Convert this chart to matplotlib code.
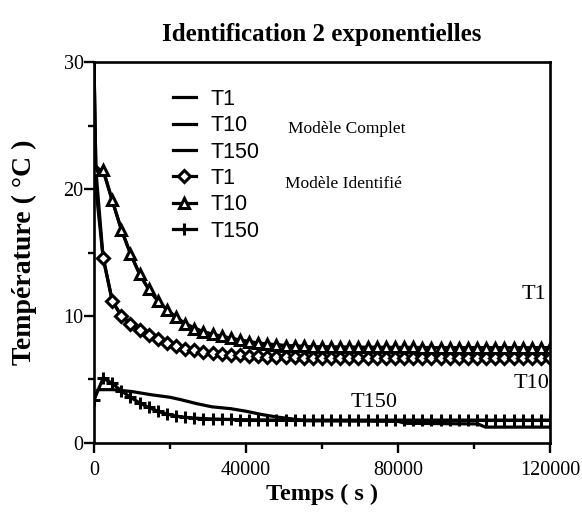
import numpy as np
import matplotlib
matplotlib.use('Agg')
import matplotlib.pyplot as plt
from matplotlib.lines import Line2D

# identified model, sampled every 2400 s
t_id = np.arange(0, 120001, 2400)

t1_id = [21.5, 14.6, 11.2, 10.0, 9.4, 8.9, 8.5, 8.15, 7.85, 7.6,
         7.42, 7.3, 7.18, 7.08, 7.0, 6.94, 6.89, 6.85, 6.82, 6.79,
         6.77, 6.75, 6.74, 6.73, 6.72, 6.71, 6.7, 6.7, 6.7, 6.7,
         6.7, 6.7, 6.7, 6.7, 6.7, 6.7, 6.7, 6.7, 6.7, 6.7,
         6.7, 6.7, 6.7, 6.7, 6.7, 6.7, 6.7, 6.7, 6.7, 6.7, 6.7]

t10_id = [21.5, 21.5, 19.1, 16.8, 14.9, 13.3, 12.1, 11.2, 10.5, 9.9,
          9.4, 9.0, 8.75, 8.55, 8.4, 8.25, 8.1, 7.97, 7.87, 7.78,
          7.72, 7.67, 7.63, 7.6, 7.57, 7.55, 7.55, 7.54, 7.54, 7.53,
          7.53, 7.53, 7.52, 7.52, 7.52, 7.52, 7.51, 7.51, 7.51, 7.51,
          7.5, 7.5, 7.5, 7.5, 7.5, 7.5, 7.5, 7.5, 7.5, 7.5, 7.5]

t150_id = [3.4, 5.1, 4.7, 4.1, 3.6, 3.15, 2.8, 2.5, 2.28, 2.12,
           2.02, 1.96, 1.92, 1.89, 1.87, 1.85, 1.84, 1.83, 1.82, 1.81,
           1.8, 1.8, 1.8, 1.8, 1.8, 1.8, 1.8, 1.8, 1.8, 1.8,
           1.8, 1.8, 1.8, 1.8, 1.8, 1.8, 1.8, 1.8, 1.8, 1.8,
           1.8, 1.8, 1.8, 1.8, 1.8, 1.8, 1.8, 1.8, 1.8, 1.8, 1.8]

# complete model
t_c = [0, 500, 2400, 4800, 7200, 9600, 12000, 14400, 16800, 19200, 21600,
       24000, 28800, 33600, 38400, 43200, 50400, 57600, 72000, 96000, 120000]
t1_c = [30.0, 21.5, 14.6, 11.2, 10.0, 9.4, 8.9, 8.5, 8.15, 7.85, 7.6,
        7.42, 7.18, 7.0, 6.89, 6.82, 6.75, 6.7, 6.7, 6.7, 6.7]
t10_c = [30.0, 21.5, 21.5, 19.1, 16.8, 14.9, 13.3, 12.1, 11.2, 10.5, 9.9,
         9.4, 8.75, 8.4, 8.1, 7.87, 7.67, 7.57, 7.53, 7.51, 7.5]

t150_ct = [0, 1000, 5000, 10000, 15000, 20000, 23000, 27000, 31000, 36000,
           40000, 44000, 48000, 52000, 56000, 80000, 82000, 101000, 103000, 120000]
t150_c = [3.4, 4.2, 4.2, 4.05, 3.8, 3.6, 3.4, 3.1, 2.85, 2.7,
          2.5, 2.25, 2.05, 1.9, 1.75, 1.7, 1.55, 1.5, 1.25, 1.25]

serif = 'Liberation Serif'
sans = 'Liberation Sans'

fig = plt.figure(figsize=(5.82, 5.16), dpi=100)
ax = fig.add_axes([0.1615, 0.1415, 0.7835, 0.7383])

lw = 2.3
dia = dict(marker='D', ms=6, mfc='white', mec='black', mew=2.2)
tri = dict(marker='^', ms=7, mfc='white', mec='black', mew=2.2)
crs = dict(marker='+', ms=9, mew=2.2)

ax.plot(t_c, t1_c, color='black', lw=lw)
ax.plot(t_c, t10_c, color='black', lw=lw)
ax.plot(t150_ct, t150_c, color='black', lw=lw)
ax.plot(t_id, t1_id, color='black', lw=lw, **dia)
ax.plot(t_id, t10_id, color='black', lw=lw, **tri)
ax.plot(t_id, t150_id, color='black', lw=lw, **crs)

ax.set_xlim(0, 120000)
ax.set_ylim(0, 30)
ax.set_xticks([0, 40000, 80000, 120000])
ax.set_xticks([20000, 60000, 100000], minor=True)
ax.set_yticks([0, 10, 20, 30])
ax.set_yticks([5, 15, 25], minor=True)
ax.tick_params(which='major', direction='out', length=7, width=1.7,
               top=False, right=False, labelsize=14.5)
ax.tick_params(axis='y', which='major', pad=0.5)
ax.tick_params(axis='x', which='major', pad=6)
ax.tick_params(which='minor', direction='out', length=4, width=1.7,
               top=False, right=False)
for lab in ax.get_xticklabels() + ax.get_yticklabels():
    lab.set_fontfamily(serif)
for s in ax.spines.values():
    s.set_linewidth(1.9)

ax.set_title('Identification 2 exponentielles', fontfamily=serif,
             fontweight='bold', fontsize=18, pad=15)
ax.set_xlabel('Temps ( s )', fontfamily=serif, fontweight='bold', fontsize=17.5, labelpad=3)
ax.set_ylabel('Température ( °C )', fontfamily=serif, fontweight='bold', fontsize=20, labelpad=19)

handles = [
    Line2D([], [], color='black', lw=lw),
    Line2D([], [], color='black', lw=lw),
    Line2D([], [], color='black', lw=lw),
    Line2D([], [], color='black', lw=lw, **dia),
    Line2D([], [], color='black', lw=lw, **tri),
    Line2D([], [], color='black', lw=lw, **crs),
]
labels = ['T1', 'T10', 'T150', 'T1', 'T10', 'T150']
leg = ax.legend(handles, labels, loc='upper left', bbox_to_anchor=(0.15, 0.958),
                frameon=False, handlelength=1.05, handletextpad=0.7,
                labelspacing=0.25, borderpad=0, prop={'family': sans, 'size': 15.5})

ax.text(0.425, 0.825, 'Modèle Complet', transform=ax.transAxes,
        fontfamily=serif, fontsize=12.5, va='center')
ax.text(0.418, 0.68, 'Modèle Identifié', transform=ax.transAxes,
        fontfamily=serif, fontsize=12.5, va='center')

ax.text(119000, 11.7, 'T1', fontfamily=serif, fontsize=16, ha='right', va='center')
ax.text(119800, 4.7, 'T10', fontfamily=serif, fontsize=16, ha='right', va='center')
ax.text(67500, 3.2, 'T150', fontfamily=serif, fontsize=16, ha='left', va='center')

fig.savefig('out.png', dpi=100)
